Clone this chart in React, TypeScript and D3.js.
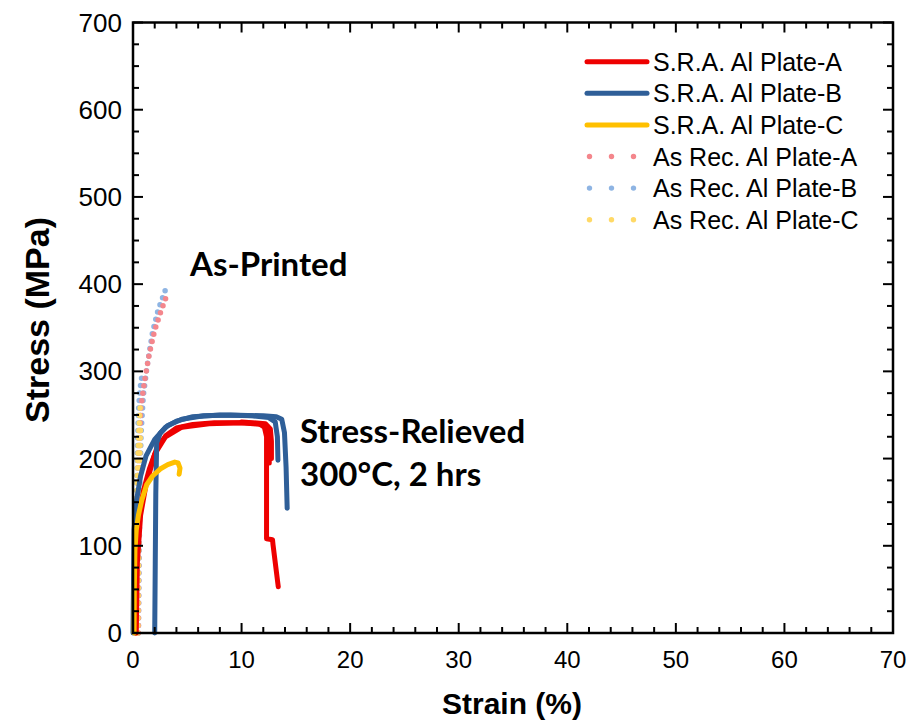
import React from 'react';
import * as d3 from 'd3';

// S.R.A. (stress relieved) plate A - red, several specimens
const sraA1Strain = [0.2, 0.25, 0.35, 0.6, 1.0, 1.5, 2.2, 3.0, 4.0, 5.5, 7.5, 10.0, 11.6, 12.1, 12.3, 12.3, 12.3, 12.85, 12.9, 13.38];
const sraA1Stress = [0, 60, 110, 140, 165, 188, 212, 226, 235, 239, 241, 241, 240, 236, 225, 160, 108, 107, 101, 53];
const sraA2Strain = [0.3, 0.4, 0.7, 1.2, 2.0, 3.0, 4.5, 7.0, 10.0, 12.0, 12.45, 12.55, 12.55];
const sraA2Stress = [0, 80, 135, 170, 205, 225, 236, 240, 241, 239, 233, 215, 195];
const sraA3Strain = [10.0, 12.2, 12.65, 12.75, 12.75];
const sraA3Stress = [242, 240, 234, 220, 200];

// S.R.A. plate B - dark blue
const sraB1Strain = [0, 0.05, 0.1, 0.3, 0.7, 1.2, 2.0, 3.0, 4.0, 5.5, 8.0, 11.0, 12.5, 13.1, 13.3, 13.35];
const sraB1Stress = [0, 60, 118, 150, 180, 203, 222, 236, 243, 248, 250, 249, 247, 242, 225, 198];
const sraB2Strain = [2.0, 2.05, 2.1, 2.18, 2.5, 3.2, 4.5, 6.5, 9.0, 12.0, 13.2, 13.7, 13.95, 14.1, 14.2];
const sraB2Stress = [0, 80, 160, 218, 229, 238, 245, 249, 250, 249, 248, 245, 230, 190, 143];

// S.R.A. plate C - yellow
const sraCStrain = [0.1, 0.12, 0.18, 0.3, 0.5, 0.8, 1.26, 1.8, 2.5, 3.2, 3.85, 4.15, 4.33, 4.25];
const sraCStress = [0, 50, 95, 118, 135, 152, 170, 180, 188, 193, 196, 195, 189, 182];

// As received (as-printed) plates - dotted
const arA1Strain = [0.3, 0.33, 0.38, 0.45, 0.55, 0.72, 1.05, 1.5, 2.0, 2.55, 3.05];
const arA1Stress = [0, 60, 120, 180, 225, 258, 288, 320, 347, 368, 385];
const arA2Strain = [0.5, 0.52, 0.56, 0.62, 0.7];
const arA2Stress = [0, 80, 160, 220, 255];
const arB1Strain = [0.5, 0.55, 0.6, 0.65, 0.75, 0.95, 1.3, 1.8, 2.3, 3.0];
const arB1Stress = [0, 60, 120, 180, 230, 272, 306, 345, 370, 394];
const arB2Strain = [0.25, 0.28, 0.33, 0.4, 0.5, 0.65, 0.85];
const arB2Stress = [0, 70, 140, 210, 255, 280, 298];
const arC1Strain = [0.2, 0.25, 0.3, 0.4, 0.5, 0.6, 0.7];
const arC1Stress = [0, 60, 120, 180, 220, 248, 265];
const arC2Strain = [0.45, 0.5, 0.55, 0.62, 0.7];
const arC2Stress = [0, 70, 140, 200, 240];

const legendLabels = [
  'S.R.A. Al Plate-A',
  'S.R.A. Al Plate-B',
  'S.R.A. Al Plate-C',
  'As Rec. Al Plate-A',
  'As Rec. Al Plate-B',
  'As Rec. Al Plate-C',
];

const xTicks = [0, 10, 20, 30, 40, 50, 60, 70];
const yTicks = [0, 100, 200, 300, 400, 500, 600, 700];

const RED = '#EE0000';
const BLUE = '#2F5F98';
const YELLOW = '#FFC000';
const PINK = '#F4868C';
const LBLUE = '#8EB4E3';
const LYELLOW = '#FFD966';

const zip = (xs: number[], ys: number[]) => xs.map((v, i) => [v, ys[i]] as [number, number]);

export default function App() {
  const width = 911;
  const height = 724;
  const left = 133, right = 893, top = 22.5, bottom = 633;

  const x = d3.scaleLinear().domain([0, 70]).range([left, right]);
  const y = d3.scaleLinear().domain([0, 700]).range([bottom, top]);
  const line = d3.line<[number, number]>().x(d => x(d[0])).y(d => y(d[1]));

  const dotted = [
    { pts: zip(arB2Strain, arB2Stress), color: LBLUE },
    { pts: zip(arB1Strain, arB1Stress), color: LBLUE },
    { pts: zip(arA1Strain, arA1Stress), color: PINK },
    { pts: zip(arA2Strain, arA2Stress), color: PINK },
    { pts: zip(arC1Strain, arC1Stress), color: LYELLOW },
    { pts: zip(arC2Strain, arC2Stress), color: LYELLOW },
  ];
  const solid = [
    { pts: zip(sraA1Strain, sraA1Stress), color: RED },
    { pts: zip(sraA2Strain, sraA2Stress), color: RED },
    { pts: zip(sraA3Strain, sraA3Stress), color: RED },
    { pts: zip(sraB1Strain, sraB1Stress), color: BLUE },
    { pts: zip(sraB2Strain, sraB2Stress), color: BLUE },
    { pts: zip(sraCStrain, sraCStress), color: YELLOW },
  ];

  const xMinor = d3.range(0, 70.01, 2);
  const yMinor = d3.range(0, 700.01, 25);
  const tickFont = 'Liberation Sans, Arial, sans-serif';
  const annFont = 'Lato, Open Sans, sans-serif';
  const legendColors = [RED, BLUE, YELLOW, PINK, LBLUE, LYELLOW];

  return (
    <svg width={width} height={height} style={{ position: 'absolute', left: 0, top: 0, background: '#fff' }}>
      <rect width={width} height={height} fill="#fff" />

      {/* curves */}
      {dotted.map((c, i) => (
        <path key={'d' + i} d={line(c.pts) || ''} fill="none" stroke={c.color} strokeWidth={5.5}
          strokeDasharray="0 7.5" strokeLinecap="round" />
      ))}
      {solid.map((c, i) => (
        <path key={'s' + i} d={line(c.pts) || ''} fill="none" stroke={c.color} strokeWidth={5}
          strokeLinejoin="round" strokeLinecap="round" />
      ))}

      {/* frame */}
      <rect x={left} y={top} width={right - left} height={bottom - top} fill="none" stroke="#000" strokeWidth={2.5} />

      {xMinor.map(v => {
        const major = v % 10 === 0;
        const len = major ? 10 : 6;
        return (
          <g key={'xt' + v}>
            <line x1={x(v)} x2={x(v)} y1={bottom} y2={bottom - len} stroke="#000" strokeWidth={2} />
            <line x1={x(v)} x2={x(v)} y1={top} y2={top + len} stroke="#000" strokeWidth={2} />
          </g>
        );
      })}
      {yMinor.map(v => {
        const major = v % 100 === 0;
        const len = major ? 10 : 6;
        return (
          <g key={'yt' + v}>
            <line x1={left} x2={left + len} y1={y(v)} y2={y(v)} stroke="#000" strokeWidth={2} />
            <line x1={right} x2={right - len} y1={y(v)} y2={y(v)} stroke="#000" strokeWidth={2} />
          </g>
        );
      })}

      {xTicks.map(v => (
        <text key={'xl' + v} x={x(v)} y={668} textAnchor="middle" fontFamily={tickFont} fontSize={24}>{v}</text>
      ))}
      {yTicks.map(v => (
        <text key={'yl' + v} x={122} y={y(v) + 9} textAnchor="end" fontFamily={tickFont} fontSize={26}>{v}</text>
      ))}

      <text x={512} y={714} textAnchor="middle" fontFamily={tickFont} fontSize={30} fontWeight="bold">Strain (%)</text>
      <text transform="translate(49,320) rotate(-90)" textAnchor="middle" fontFamily={tickFont} fontSize={34} fontWeight="bold">Stress (MPa)</text>

      {/* annotations */}
      <text x={190} y={276} fontFamily={annFont} fontSize={33} fontWeight="bold">As-Printed</text>
      <text x={300} y={443} fontFamily={annFont} fontSize={33} fontWeight="bold">Stress-Relieved</text>
      <text x={300} y={486} fontFamily={annFont} fontSize={33} fontWeight="bold">300°C, 2 hrs</text>

      {/* legend */}
      {legendLabels.map((lab, i) => {
        const ly = 61.7 + i * 31.6;
        return (
          <g key={'lg' + i}>
            {i < 3 ? (
              <line x1={587} x2={647} y1={ly} y2={ly} stroke={legendColors[i]} strokeWidth={5} strokeLinecap="round" />
            ) : (
              [589.5, 611.5, 633.5].map(cx => (
                <circle key={cx} cx={cx} cy={ly} r={2.7} fill={legendColors[i]} />
              ))
            )}
            <text x={653} y={ly + 9} fontFamily={tickFont} fontSize={25}>{lab}</text>
          </g>
        );
      })}
    </svg>
  );
}
